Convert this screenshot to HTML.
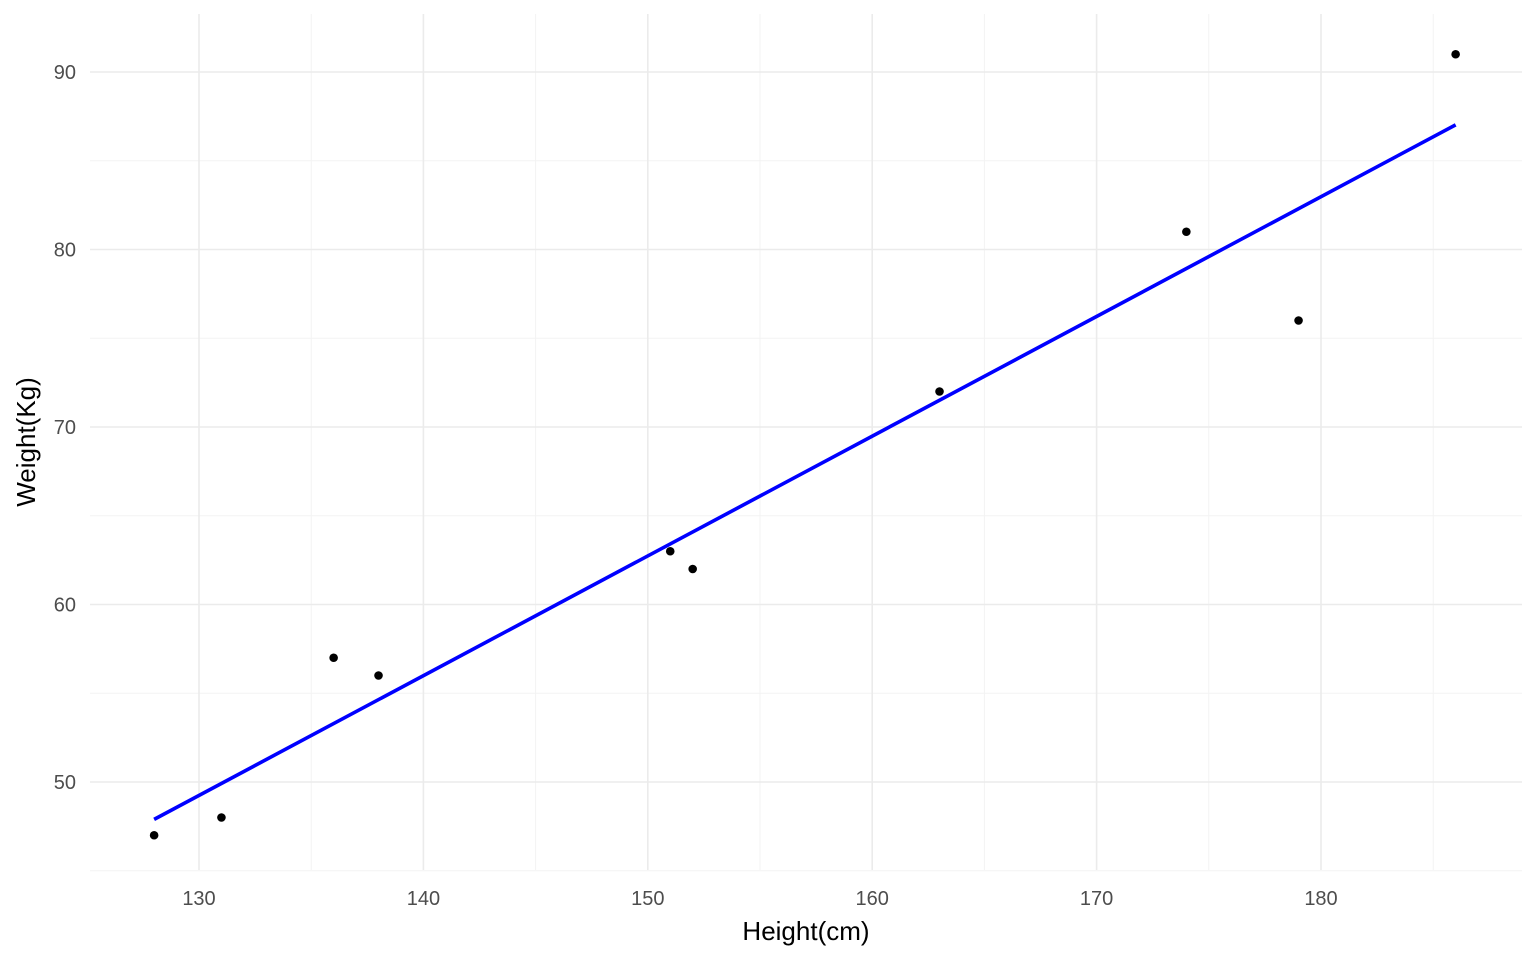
<!DOCTYPE html>
<html><head><meta charset="utf-8"><style>
html,body{margin:0;padding:0;background:#fff;}
svg{display:block;font-family:"Liberation Sans",Arial,sans-serif;}
</style></head><body>
<svg id="chart" width="1536" height="960"></svg>
<script>
const heights=[128,131,136,138,151,152,163,174,179,186];
const weights=[47,48,57,56,63,62,72,81,76,91];
const xTicks=[130,140,150,160,170,180];
const yTicks=[50,60,70,80,90];
const xMinor=[135,145,155,165,175,185];
const yMinor=[45,55,65,75,85];
const NS='http://www.w3.org/2000/svg';
const svg=document.getElementById('chart');
const X=v=>199+(v-130)*22.44;
const Y=v=>782-(v-50)*17.75;
const px0=90,px1=1522,py0=14,py1=870;
function mk(t,a,p){const e=document.createElementNS(NS,t);for(const k in a)e.setAttribute(k,a[k]);(p||svg).appendChild(e);return e;}
const grid=mk('g',{});


xMinor.forEach(v=>mk('line',{x1:X(v),x2:X(v),y1:py0,y2:py1,stroke:'#f3f3f3','stroke-width':1},grid));
yMinor.forEach(v=>mk('line',{x1:px0,x2:px1,y1:Y(v),y2:Y(v),stroke:'#f3f3f3','stroke-width':1},grid));
xTicks.forEach(v=>mk('line',{x1:X(v),x2:X(v),y1:py0,y2:py1,stroke:'#ebebeb','stroke-width':1.6},grid));
yTicks.forEach(v=>mk('line',{x1:px0,x2:px1,y1:Y(v),y2:Y(v),stroke:'#ebebeb','stroke-width':1.6},grid));
xTicks.forEach(v=>{const t=mk('text',{x:X(v),y:905,'text-anchor':'middle','font-size':20,fill:'#4d4d4d'});t.textContent=v;

});
yTicks.forEach(v=>{const t=mk('text',{x:76,y:Y(v)+7,'text-anchor':'end','font-size':20,fill:'#4d4d4d'});t.textContent=v;

});
const n=heights.length,mx=heights.reduce((a,b)=>a+b)/n,my=weights.reduce((a,b)=>a+b)/n;
let sxy=0,sxx=0;for(let i=0;i<n;i++){sxy+=(heights[i]-mx)*(weights[i]-my);sxx+=(heights[i]-mx)**2;}
const b=sxy/sxx,a=my-b*mx;
const xmin=Math.min(...heights),xmax=Math.max(...heights);
const line=mk('line',{x1:X(xmin),y1:Y(a+b*xmin),x2:X(xmax),y2:Y(a+b*xmax),stroke:'#0000ff','stroke-width':3.6});


heights.forEach((h,i)=>{const c=mk('circle',{cx:X(h),cy:Y(weights[i]),r:4.3,fill:'#000'});

});
const xt=mk('text',{x:806,y:940,'text-anchor':'middle','font-size':26,fill:'#000'});xt.textContent='Height(cm)';


const yt=mk('text',{x:0,y:0,'text-anchor':'middle','font-size':26,fill:'#000',transform:'translate(35,442) rotate(-90)'});yt.textContent='Weight(Kg)';


</script>
</body></html>
